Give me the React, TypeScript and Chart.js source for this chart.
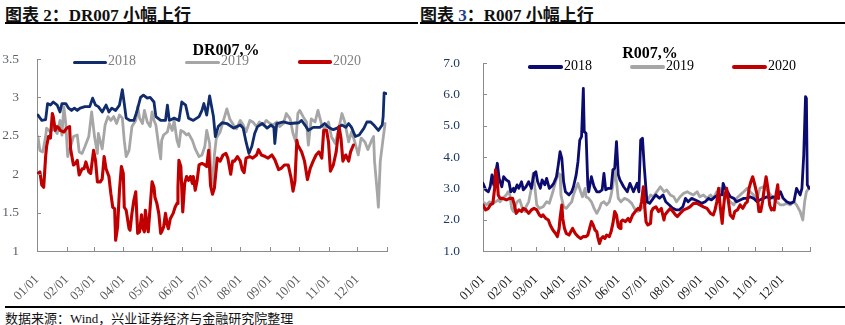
import React, { useEffect, useRef } from "react";
import { Chart, registerables } from "chart.js";

Chart.register(...registerables);

type Pt = [number, number];

// ---------- categories / ticks ----------
const MONTH_TICKS = [0, 31, 59, 90, 120, 151, 181, 212, 243, 273, 304, 334, 365];
const MONTH_LABELS = ["01/01", "02/01", "03/01", "04/01", "05/01", "06/01", "07/01", "08/01", "09/01", "10/01", "11/01", "12/01", ""];
const SERIES_NAMES = ["2018", "2019", "2020"];
const DR_Y_TICKS = [1, 1.5, 2, 2.5, 3, 3.5];
const R_Y_TICKS = [1, 2, 3, 4, 5, 6, 7];

// ---------- DR007 (day of year, %) ----------
const DR007_2018: Pt[] = [[1,2.77],[5,2.70],[9,2.71],[11,2.92],[14,2.90],[17,2.94],[21,2.90],[24,2.81],[26,2.92],[30,2.92],[33,2.86],[36,2.83],[39,2.86],[42,2.83],[45,2.86],[50,2.88],[55,2.88],[58,2.99],[61,2.90],[64,2.88],[68,2.81],[72,2.90],[75,2.81],[78,2.86],[82,2.83],[86,2.90],[89,3.10],[91,2.92],[93,2.73],[97,2.70],[101,2.70],[104,2.81],[108,3.00],[111,3.03],[115,2.99],[118,3.00],[122,2.94],[124,2.75],[129,2.70],[134,2.70],[136,2.90],[138,2.70],[143,2.73],[148,2.70],[151,2.94],[155,2.90],[158,2.73],[163,2.70],[169,2.75],[172,2.83],[174,2.92],[177,2.77],[180,3.02],[184,2.75],[186,2.49],[189,2.62],[193,2.67],[198,2.66],[205,2.60],[212,2.64],[215,2.60],[218,2.42],[221,2.27],[224,2.36],[227,2.53],[230,2.62],[235,2.66],[240,2.60],[244,2.64],[247,2.61],[248,2.40],[250,2.66],[257,2.68],[264,2.66],[273,2.67],[276,2.70],[280,2.63],[283,2.57],[288,2.61],[295,2.61],[300,2.66],[304,2.61],[309,2.58],[313,2.60],[318,2.64],[322,2.61],[325,2.66],[328,2.61],[332,2.49],[336,2.51],[341,2.60],[344,2.68],[348,2.68],[352,2.63],[356,2.57],[360,2.64],[361,2.75],[362,3.06],[364,3.05]];
const DR007_2019: Pt[] = [[1,2.49],[3,2.31],[6,2.29],[9,2.49],[10,2.60],[14,2.55],[17,2.60],[21,2.53],[24,2.70],[26,2.51],[28,2.88],[30,2.66],[32,2.23],[35,2.36],[38,2.49],[42,2.51],[44,2.29],[47,2.27],[50,2.36],[54,2.49],[57,2.81],[60,2.49],[63,2.27],[64,2.53],[68,2.33],[71,2.64],[74,2.75],[77,2.70],[80,2.75],[83,2.66],[86,2.77],[89,2.73],[91,2.44],[93,2.23],[96,2.31],[99,2.62],[103,2.70],[105,2.88],[107,2.73],[110,2.66],[112,2.83],[115,2.68],[118,2.62],[120,2.81],[122,2.70],[124,2.64],[127,2.36],[129,2.20],[130,2.44],[132,2.51],[136,2.55],[138,2.66],[141,2.57],[143,2.70],[146,2.44],[148,2.36],[150,2.57],[153,2.55],[156,2.51],[158,2.53],[162,2.44],[165,2.33],[169,2.23],[172,2.25],[175,2.36],[177,2.57],[180,2.40],[181,2.12],[183,1.85],[185,2.25],[187,2.47],[191,2.55],[194,2.68],[198,2.85],[201,2.72],[205,2.64],[208,2.59],[212,2.70],[215,2.64],[218,2.55],[222,2.70],[225,2.68],[229,2.62],[232,2.68],[236,2.64],[239,2.70],[243,2.66],[246,2.64],[250,2.68],[253,2.62],[257,2.66],[260,2.79],[264,2.72],[267,2.53],[270,2.42],[272,2.79],[274,2.83],[278,2.74],[281,2.68],[283,2.38],[286,2.72],[290,2.68],[293,2.83],[297,2.64],[300,2.59],[304,2.68],[307,2.49],[311,2.40],[314,2.55],[318,2.79],[321,2.68],[325,2.42],[328,2.55],[331,2.44],[335,2.25],[338,2.47],[342,2.42],[345,2.32],[349,2.44],[351,2.49],[352,2.17],[355,1.74],[356,1.57],[358,2.17],[361,2.47],[363,2.66]];
const DR007_2020: Pt[] = [[1,2.01],[3,2.03],[5,1.86],[7,1.83],[9,2.23],[10,2.36],[12,2.49],[14,2.47],[16,2.79],[17,2.75],[19,2.57],[21,2.62],[23,2.60],[24,2.57],[28,2.55],[31,2.60],[34,2.62],[35,2.33],[38,2.12],[40,2.14],[42,2.18],[44,1.99],[47,2.07],[49,2.07],[51,2.16],[54,2.03],[56,2.01],[59,2.31],[61,2.18],[63,1.90],[66,1.90],[68,1.94],[70,2.23],[72,2.07],[75,1.97],[77,1.75],[79,1.57],[81,1.55],[82,1.14],[84,1.31],[86,1.79],[88,2.10],[90,2.01],[91,1.57],[93,1.53],[96,1.29],[97,1.27],[99,1.49],[101,1.66],[103,1.77],[104,1.49],[105,1.23],[107,1.25],[109,1.47],[110,1.31],[112,1.25],[113,1.53],[115,1.31],[116,1.25],[118,1.57],[120,1.90],[122,1.83],[123,1.70],[125,1.62],[127,1.49],[129,1.23],[130,1.25],[132,1.31],[134,1.49],[136,1.33],[137,1.29],[139,1.42],[142,1.49],[144,1.57],[146,1.62],[147,1.83],[148,2.18],[150,2.10],[152,1.51],[154,1.88],[156,1.97],[158,1.92],[160,1.97],[162,1.88],[163,1.97],[165,1.79],[167,1.92],[169,2.12],[172,2.14],[175,2.12],[177,2.10],[179,2.31],[181,1.85],[183,1.74],[185,1.82],[188,2.21],[191,2.17],[194,2.25],[197,2.27],[199,2.21],[202,2.00],[204,2.17],[206,2.17],[209,2.23],[212,2.17],[214,2.06],[216,2.02],[218,2.21],[222,2.23],[225,2.21],[229,2.25],[231,2.32],[234,2.25],[238,2.23],[241,2.21],[245,2.25],[248,2.19],[252,2.06],[255,2.08],[258,2.12],[262,2.12],[265,1.95],[267,1.78],[269,1.91],[271,2.44],[272,2.38],[276,2.29],[279,2.17],[282,1.93],[285,2.08],[288,2.17],[291,2.25],[294,2.29],[297,2.21],[299,2.57],[302,2.57],[304,2.42],[306,2.04],[309,2.12],[312,2.29],[315,2.62],[317,2.47],[319,2.17],[322,2.25],[325,2.17],[327,2.29],[330,2.38]];

// ---------- R007 (day of year, %) ----------
const R007_2018: Pt[] = [[0,3.16],[3,2.95],[6,2.89],[8,3.05],[10,3.43],[12,3.11],[14,3.48],[16,3.80],[18,3.32],[21,3.05],[23,3.37],[26,3.27],[29,3.21],[31,2.89],[34,3.00],[35,2.89],[38,3.11],[40,3.00],[43,3.21],[45,2.95],[48,3.05],[51,3.21],[54,3.00],[57,3.48],[59,3.53],[61,3.21],[64,3.00],[66,3.27],[69,3.11],[71,3.32],[74,3.00],[76,3.05],[79,3.16],[82,3.37],[84,3.74],[86,4.17],[88,3.96],[90,3.21],[92,2.89],[96,2.79],[99,2.89],[101,3.05],[104,3.43],[106,3.85],[108,4.54],[110,4.65],[112,6.19],[113,4.81],[115,4.76],[117,3.11],[118,2.89],[121,3.37],[124,3.05],[127,2.89],[130,2.89],[133,2.95],[135,3.48],[137,2.95],[140,3.00],[143,3.00],[145,3.59],[147,3.64],[149,4.49],[151,3.43],[153,3.26],[157,3.05],[161,2.89],[164,3.16],[168,2.89],[172,3.16],[174,2.89],[176,4.54],[178,4.60],[180,3.69],[183,2.57],[186,2.52],[190,2.68],[193,2.79],[197,2.68],[201,2.79],[204,2.57],[208,2.47],[212,2.36],[216,2.31],[219,2.31],[223,2.41],[226,2.68],[229,2.57],[233,2.68],[237,2.63],[241,2.57],[244,2.52],[248,2.57],[252,2.68],[255,2.63],[259,2.73],[263,2.79],[267,2.79],[268,3.16],[270,3.00],[273,2.89],[276,2.73],[280,2.68],[283,2.57],[287,2.63],[291,2.68],[295,2.68],[298,2.73],[302,2.68],[306,2.57],[309,2.63],[313,2.68],[317,2.73],[321,2.68],[324,2.73],[328,2.68],[332,2.89],[335,2.68],[339,2.57],[343,2.52],[347,2.57],[350,3.00],[352,2.89],[354,2.79],[356,3.00],[358,4.06],[360,5.93],[361,5.87],[362,3.11],[364,3.00]];
const R007_2019: Pt[] = [[0,2.57],[4,2.47],[7,2.57],[11,2.52],[14,2.57],[17,2.63],[19,2.57],[22,2.68],[26,2.79],[28,2.89],[30,2.79],[32,2.36],[34,2.26],[35,2.36],[38,2.57],[41,2.63],[44,2.36],[47,2.26],[48,2.41],[51,2.57],[54,3.00],[56,3.48],[58,3.00],[60,2.47],[63,2.36],[67,2.41],[71,2.57],[74,2.52],[78,2.89],[81,3.21],[84,3.48],[86,3.43],[87,2.79],[90,2.41],[93,2.36],[96,2.47],[99,2.57],[101,2.79],[103,2.95],[106,3.16],[109,2.89],[111,2.73],[114,3.00],[115,2.73],[118,2.68],[121,2.57],[124,2.36],[127,2.20],[130,2.36],[132,2.52],[135,2.57],[138,2.47],[141,2.57],[143,2.79],[145,3.11],[147,3.59],[149,3.21],[151,2.68],[154,2.57],[158,2.68],[162,2.63],[166,2.52],[169,2.36],[173,2.26],[176,2.33],[179,2.41],[183,2.57],[187,2.79],[190,2.73],[194,2.89],[198,3.05],[202,2.89],[205,2.95],[209,2.79],[213,2.73],[216,2.57],[220,2.73],[224,2.84],[228,2.89],[231,2.84],[235,2.79],[239,2.89],[242,2.73],[246,2.79],[250,2.68],[254,2.79],[257,2.68],[261,2.89],[265,3.00],[268,2.79],[272,2.73],[276,2.57],[280,2.47],[283,2.68],[287,2.79],[291,2.89],[295,3.00],[298,2.89],[302,2.79],[306,2.68],[309,3.00],[313,3.05],[317,2.95],[321,2.79],[324,2.68],[328,2.57],[332,2.47],[335,2.47],[339,2.52],[343,2.47],[347,2.57],[350,2.47],[354,2.26],[357,1.99],[359,2.57],[361,2.89],[365,3.05]];
const R007_2020: Pt[] = [[0,2.47],[3,2.31],[6,2.36],[8,2.47],[11,2.52],[13,3.00],[14,3.59],[16,3.27],[17,2.79],[19,2.68],[22,2.68],[26,2.63],[30,2.68],[33,2.68],[35,2.47],[37,2.20],[40,2.31],[43,2.26],[45,2.36],[48,2.31],[51,2.20],[54,2.31],[57,2.36],[60,2.31],[63,2.15],[65,2.10],[67,2.15],[70,2.04],[73,1.99],[75,1.83],[78,1.67],[81,1.56],[83,1.46],[85,1.72],[86,2.04],[88,2.47],[89,2.04],[91,1.72],[93,1.56],[96,1.51],[99,1.67],[100,1.72],[103,1.56],[106,1.46],[109,1.40],[112,1.46],[115,1.46],[117,1.51],[119,1.72],[121,1.94],[123,1.83],[125,1.67],[127,1.62],[128,1.46],[130,1.24],[132,1.40],[134,1.46],[136,1.40],[138,1.51],[141,1.46],[143,1.62],[145,1.88],[147,2.26],[149,2.15],[151,1.78],[153,1.72],[154,1.94],[156,1.99],[159,1.94],[162,2.04],[164,1.94],[167,2.15],[170,2.26],[173,2.36],[175,2.31],[177,2.57],[179,3.05],[181,2.26],[182,1.93],[184,1.83],[187,1.88],[188,2.26],[190,2.36],[193,2.41],[196,2.26],[199,2.36],[202,1.99],[203,2.15],[206,2.26],[209,2.36],[212,2.26],[215,2.15],[217,2.10],[220,2.20],[224,2.31],[228,2.36],[231,2.41],[235,2.52],[239,2.52],[242,2.47],[246,2.41],[250,2.36],[254,2.20],[257,2.15],[259,2.31],[261,2.57],[263,3.00],[265,2.36],[267,1.88],[268,2.26],[270,2.79],[272,3.00],[274,2.57],[276,2.15],[279,2.04],[281,2.26],[284,2.31],[287,2.47],[290,2.36],[293,2.52],[295,2.57],[297,3.00],[299,3.21],[301,3.37],[303,3.16],[306,2.79],[308,2.26],[310,2.26],[312,2.57],[314,3.00],[316,3.37],[318,3.00],[320,2.47],[322,2.31],[324,2.36],[325,2.31],[327,2.79],[329,3.11],[330,2.68]];

// ---------- styles ----------
const SERIF = '"Liberation Serif", "Times New Roman", "Noto Sans CJK SC", serif';
const CJK = '"Liberation Serif", "Noto Sans CJK SC", sans-serif';
const GRAY = "#A6A6A6";
const RED = "#C00000";
const AXIS = "#8C8C8C";

const toXY = (pts: Pt[]) => pts.map(([x, y]) => ({ x, y }));

type PanelProps = {
  left: number; top: number; width: number; height: number;
  padTop: number; padRight: number; yAxisW: number; xAxisH: number;
  series: Pt[][]; navy: string; lineW: number;
  yMin: number; yMax: number; yTicks: number[]; yFmt: (v: number) => string;
  yColor: string; xColor: string; yPad: number; xPad: number;
};

function Panel(p: PanelProps) {
  const ref = useRef<HTMLCanvasElement | null>(null);
  useEffect(() => {
    if (!ref.current) return;
    const innerTicks = {
      id: "innerTicks",
      afterDraw(chart: any) {
        const { ctx, chartArea } = chart;
        const xs = chart.scales.x, ys = chart.scales.y;
        ctx.save();
        ctx.strokeStyle = AXIS;
        ctx.lineWidth = 1;
        ctx.beginPath();
        xs.ticks.forEach((t: any) => {
          const px = Math.round(xs.getPixelForValue(t.value)) + 0.5;
          ctx.moveTo(px, chartArea.bottom);
          ctx.lineTo(px, chartArea.bottom - 4);
        });
        ys.ticks.forEach((t: any) => {
          const py = Math.round(ys.getPixelForValue(t.value)) + 0.5;
          ctx.moveTo(chartArea.left, py);
          ctx.lineTo(chartArea.left + 4, py);
        });
        ctx.stroke();
        ctx.restore();
      },
    };
    const [s18, s19, s20] = p.series;
    const chart = new Chart(ref.current, {
      type: "line",
      data: {
        datasets: [
          { label: SERIES_NAMES[2], data: toXY(s20), borderColor: RED, borderWidth: p.lineW + 0.3, order: 0 },
          { label: SERIES_NAMES[0], data: toXY(s18), borderColor: p.navy, borderWidth: p.lineW, order: 1 },
          { label: SERIES_NAMES[1], data: toXY(s19), borderColor: GRAY, borderWidth: p.lineW, order: 2 },
        ] as any,
      },
      options: {
        animation: false,
        responsive: false,
        maintainAspectRatio: false,
        devicePixelRatio: 1,
        elements: {
          point: { radius: 0, hoverRadius: 0 },
          line: { tension: 0, borderJoinStyle: "round", borderCapStyle: "round" },
        },
        layout: { padding: { left: 0, right: p.padRight, top: p.padTop, bottom: 0 } },
        plugins: { legend: { display: false }, title: { display: false }, tooltip: { enabled: false } },
        scales: {
          x: {
            type: "linear",
            min: 0,
            max: 365,
            grid: { display: false },
            border: { display: true, color: AXIS, width: 1 },
            afterBuildTicks: (s: any) => { s.ticks = MONTH_TICKS.map((v) => ({ value: v })); },
            afterFit: (s: any) => { s.height = p.xAxisH; },
            ticks: {
              autoSkip: false,
              minRotation: 45,
              maxRotation: 45,
              padding: p.xPad,
              color: p.xColor,
              font: { family: SERIF, size: 13 },
              callback: (v: any) => MONTH_LABELS[MONTH_TICKS.indexOf(Number(v))] ?? "",
            },
          },
          y: {
            type: "linear",
            min: p.yMin,
            max: p.yMax,
            grid: { display: false },
            border: { display: true, color: AXIS, width: 1 },
            afterBuildTicks: (s: any) => { s.ticks = p.yTicks.map((v) => ({ value: v })); },
            afterFit: (s: any) => { s.width = p.yAxisW; },
            ticks: {
              padding: p.yPad,
              color: p.yColor,
              font: { family: SERIF, size: 13.5 },
              callback: (v: any) => p.yFmt(Number(v)),
            },
          },
        },
      } as any,
      plugins: [innerTicks],
    });
    return () => chart.destroy();
  }, []);
  return (
    <canvas
      ref={ref}
      width={p.width}
      height={p.height}
      style={{ position: "absolute", left: p.left, top: p.top, width: p.width, height: p.height }}
    />
  );
}

function LegendItem(props: { x1: number; x2: number; y: number; color: string; label: string; textColor: string; thick: number }) {
  const { x1, x2, y, color, label, textColor, thick } = props;
  return (
    <>
      <div style={{ position: "absolute", left: x1, top: y - thick / 2, width: x2 - x1, height: thick, background: color, borderRadius: thick / 2 }} />
      <div style={{ position: "absolute", left: x2 + 1, top: y - 9, height: 18, lineHeight: "18px", font: `14px ${SERIF}`, color: textColor, whiteSpace: "nowrap" }}>{label}</div>
    </>
  );
}

export default function App() {
  const LEFT_NAVY = "#102C6C";
  const RIGHT_NAVY = "#0B0B70";
  return (
    <div style={{ position: "fixed", left: 0, top: 0, width: 845, height: 325, background: "#ffffff", overflow: "hidden" }}>
      {/* Figure headers */}
      <div style={{ position: "absolute", left: 5, top: 1, font: `bold 17px ${CJK}`, color: "#111", whiteSpace: "nowrap" }}>图表 2：DR007 小幅上行</div>
      <div style={{ position: "absolute", left: 5, top: 22, width: 413, height: 1.5, background: "#000" }} />
      <div style={{ position: "absolute", left: 420, top: 1, font: `bold 17px ${CJK}`, color: "#111", whiteSpace: "nowrap" }}>
        图表 <span style={{ color: "#1F3F8F" }}>3</span>：R007 小幅上行
      </div>
      <div style={{ position: "absolute", left: 420, top: 22, width: 425, height: 1.5, background: "#000" }} />

      <Panel
        left={0} top={30} width={420} height={270}
        padTop={29} padRight={33} yAxisW={37} xAxisH={49}
        series={[DR007_2018, DR007_2019, DR007_2020]} navy={LEFT_NAVY} lineW={2.8}
        yMin={1} yMax={3.5} yTicks={DR_Y_TICKS} yFmt={(v) => String(v)}
        yColor="#5A5F6B" xColor="#595959" yPad={10} xPad={13}
      />
      <Panel
        left={420} top={30} width={425} height={270}
        padTop={33} padRight={35} yAxisW={63} xAxisH={49}
        series={[R007_2018, R007_2019, R007_2020]} navy={RIGHT_NAVY} lineW={2.8}
        yMin={1} yMax={7} yTicks={R_Y_TICKS} yFmt={(v) => v.toFixed(1)}
        yColor="#1F3864" xColor="#1a1a1a" yPad={15} xPad={13}
      />

      {/* chart titles */}
      <div style={{ position: "absolute", left: 166, width: 120, top: 41, textAlign: "center", font: `bold 16px ${SERIF}`, color: "#000" }}>DR007,%</div>
      <div style={{ position: "absolute", left: 590, width: 120, top: 44, textAlign: "center", font: `bold 16px ${SERIF}`, color: "#000" }}>R007,%</div>

      {/* legends */}
      <LegendItem x1={73} x2={107} y={62} color={LEFT_NAVY} label={SERIES_NAMES[0]} textColor="#808080" thick={3} />
      <LegendItem x1={185} x2={220} y={62} color={GRAY} label={SERIES_NAMES[1]} textColor="#808080" thick={3} />
      <LegendItem x1={298} x2={332} y={62} color={RED} label={SERIES_NAMES[2]} textColor="#808080" thick={3.5} />
      <LegendItem x1={528} x2={563} y={67} color={RIGHT_NAVY} label={SERIES_NAMES[0]} textColor="#000" thick={3.5} />
      <LegendItem x1={630} x2={665} y={67} color={GRAY} label={SERIES_NAMES[1]} textColor="#000" thick={4} />
      <LegendItem x1={732} x2={767} y={67} color={RED} label={SERIES_NAMES[2]} textColor="#000" thick={4} />

      {/* footer */}
      <div style={{ position: "absolute", left: 5, top: 306, width: 840, height: 1.5, background: "#000" }} />
      <div style={{ position: "absolute", left: 5, top: 308, font: `13px ${CJK}`, color: "#111", whiteSpace: "nowrap" }}>数据来源：Wind，兴业证券经济与金融研究院整理</div>
    </div>
  );
}
